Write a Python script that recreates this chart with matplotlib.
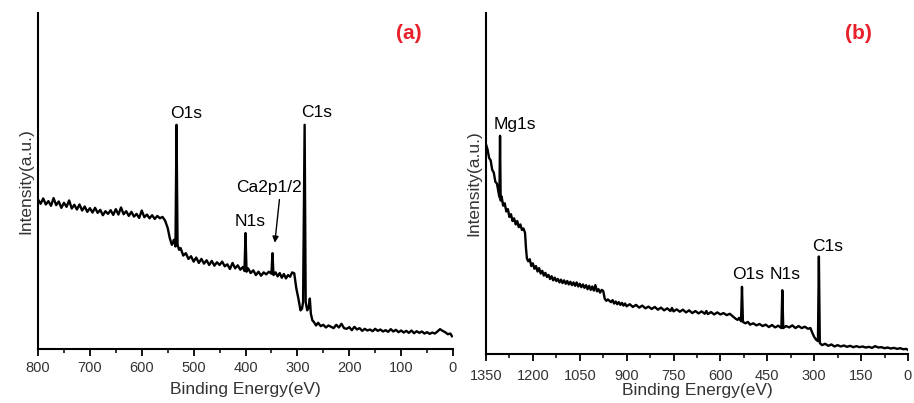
import numpy as np
import matplotlib
matplotlib.use("Agg")
import matplotlib.pyplot as plt
from matplotlib.ticker import MultipleLocator

plt.rcParams['font.family'] = ['Liberation Sans', 'DejaVu Sans']

# ---- panel (a): survey spectrum, binding energy (eV) vs intensity (a.u.)
energy_a = [800, 795, 790, 785, 780, 775, 770, 765, 760, 755, 750, 745, 740, 735, 730,
            725, 720, 715, 710, 705, 700, 695, 690, 685, 680, 675, 670, 665, 660, 655,
            650, 645, 640, 635, 630, 625, 620, 615, 610, 605, 600, 595, 590, 585, 580,
            575, 570, 565, 560, 555, 550, 546, 542, 538, 535, 533, 531, 528, 525, 520,
            515, 510, 505, 500, 495, 490, 485, 480, 475, 470, 465, 460, 455, 450, 445,
            440, 435, 430, 425, 420, 415, 410, 405, 402, 400, 398, 395, 390, 385, 380,
            375, 370, 365, 360, 355, 350, 348, 346, 342, 338, 334, 330, 326, 322, 318,
            314, 310, 306, 302, 298, 294, 291, 289, 286, 284, 281, 278, 276, 274, 271,
            268, 264, 260, 255, 250, 245, 240, 235, 230, 225, 220, 215, 210, 205, 200,
            195, 190, 185, 180, 175, 170, 165, 160, 155, 150, 145, 140, 135, 130, 125,
            120, 115, 110, 105, 100, 95, 90, 85, 80, 75, 70, 65, 60, 55, 50,
            45, 40, 35, 30, 25, 20, 15, 10, 5, 2]
intensity_a = [44.5, 43.2, 44.8, 43.0, 44.0, 42.6, 44.9, 42.8, 43.9, 42.0, 43.5, 42.3, 44.2, 41.8, 42.9,
               41.5, 43.0, 41.2, 42.4, 40.8, 41.9, 40.6, 42.0, 40.5, 41.4, 39.8, 41.0, 40.2, 41.3, 39.9,
               41.6, 40.0, 42.1, 40.1, 41.0, 39.6, 40.8, 39.4, 40.2, 39.0, 41.2, 39.2, 40.0, 38.9, 39.8,
               38.7, 39.6, 38.9, 39.3, 38.2, 36.0, 33.0, 31.0, 32.5, 30.5, 66.7, 31.0, 29.5, 30.0, 27.8,
               28.5, 26.8, 27.6, 26.0, 27.2, 25.6, 26.8, 25.4, 26.4, 25.0, 26.2, 24.8, 25.8, 25.0, 26.0,
               24.6, 25.2, 23.8, 25.6, 24.0, 24.9, 23.6, 24.4, 23.2, 34.5, 23.0, 24.0, 22.6, 23.4, 22.0,
               23.0, 21.8, 22.8, 22.2, 23.0, 22.4, 28.5, 22.0, 22.8, 21.6, 22.6, 21.2, 22.3, 21.0, 22.0,
               21.5, 22.8, 22.5, 18.0, 15.0, 11.5, 12.0, 14.0, 66.7, 14.0, 11.5, 12.5, 15.0, 10.5, 8.5,
               8.0, 7.0, 7.8, 6.8, 7.2, 6.4, 7.0, 6.6, 6.2, 7.2, 6.4, 7.5, 6.2, 6.0, 6.5,
               5.6, 6.6, 5.8, 6.2, 5.4, 6.0, 5.5, 5.8, 5.3, 6.0, 5.4, 5.8, 5.2, 5.6, 5.1,
               5.9, 5.2, 5.7, 5.0, 5.5, 4.9, 5.4, 4.8, 5.5, 4.7, 5.3, 4.8, 5.2, 4.6, 5.0,
               4.5, 4.9, 4.6, 5.2, 5.9, 5.4, 5.0, 4.4, 4.6, 3.8]

# ---- panel (b)
energy_b = [1350, 1345, 1340, 1335, 1330, 1325, 1320, 1315, 1310, 1307, 1305, 1303, 1300, 1295, 1290,
            1285, 1280, 1275, 1270, 1265, 1260, 1255, 1250, 1245, 1240, 1235, 1230, 1225, 1222, 1219,
            1215, 1210, 1205, 1200, 1195, 1190, 1185, 1180, 1175, 1170, 1165, 1160, 1155, 1150, 1145,
            1140, 1135, 1130, 1125, 1120, 1115, 1110, 1105, 1100, 1095, 1090, 1085, 1080, 1075, 1070,
            1065, 1060, 1055, 1050, 1045, 1040, 1035, 1030, 1025, 1020, 1015, 1010, 1005, 1000, 995,
            990, 985, 980, 975, 970, 965, 960, 950, 945, 940, 935, 930, 925, 920, 915,
            910, 905, 900, 890, 880, 870, 860, 850, 840, 830, 820, 810, 800, 790, 780,
            770, 760, 755, 750, 740, 730, 720, 710, 700, 690, 680, 670, 660, 650, 645,
            640, 630, 620, 610, 600, 590, 580, 570, 560, 552, 545, 540, 534, 531, 528,
            520, 512, 505, 495, 485, 475, 465, 455, 445, 435, 425, 415, 405, 402, 399,
            390, 380, 370, 360, 350, 340, 330, 320, 312, 306, 300, 294, 288, 285, 282,
            275, 265, 255, 245, 235, 225, 215, 205, 195, 185, 175, 165, 155, 145, 135,
            125, 115, 105, 95, 85, 75, 65, 55, 45, 35, 25, 15, 5, 0]
intensity_b = [61.5, 60.0, 57.5, 56.8, 54.0, 53.2, 50.5, 50.0, 47.5, 46.0, 64.0, 45.0, 46.2, 43.5, 44.2,
               41.8, 42.5, 40.2, 41.0, 39.0, 39.8, 38.0, 39.0, 37.2, 38.0, 36.4, 36.8, 35.5, 31.0, 28.0,
               27.2, 27.8, 25.8, 26.6, 25.0, 25.8, 24.2, 25.2, 23.6, 24.4, 23.0, 23.8, 22.6, 23.2, 22.0,
               22.8, 21.6, 22.4, 21.4, 22.0, 21.0, 21.8, 20.8, 21.6, 20.6, 21.4, 20.4, 21.2, 20.2, 21.0,
               20.0, 21.0, 19.8, 20.6, 19.6, 20.4, 19.4, 20.2, 19.0, 20.0, 18.8, 19.8, 18.6, 20.2, 18.4,
               19.0, 18.0, 18.8, 18.5, 16.2, 15.6, 16.0, 15.2, 15.8, 14.8, 15.4, 14.6, 15.2, 14.4, 15.0,
               14.2, 14.8, 14.0, 14.6, 13.8, 14.4, 13.6, 14.2, 13.4, 13.9, 13.2, 13.8, 13.0, 13.6, 12.8,
               13.4, 12.6, 13.5, 12.5, 13.1, 12.4, 13.0, 12.2, 12.8, 12.0, 12.6, 11.9, 12.5, 11.8, 12.6,
               11.7, 12.3, 11.6, 12.2, 11.6, 12.0, 11.4, 11.8, 11.0, 10.4, 10.0, 10.6, 9.6, 19.7, 9.4,
               9.0, 9.4, 8.6, 9.0, 8.4, 8.8, 8.2, 8.6, 7.9, 8.5, 7.8, 8.3, 7.6, 18.7, 7.6,
               8.2, 7.8, 8.4, 7.6, 8.2, 7.6, 8.0, 7.4, 7.6, 6.2, 5.0, 4.2, 3.8, 28.6, 3.2,
               2.6, 3.0, 2.4, 2.8, 2.2, 2.6, 2.2, 2.5, 2.1, 2.4, 2.0, 2.3, 2.0, 2.2, 1.9,
               2.1, 1.8, 2.3, 1.9, 2.0, 1.7, 1.9, 1.6, 1.8, 1.5, 1.7, 1.4, 1.5, 1.2]

RED = '#e8202a'
TICK_GREY = '#333333'


def style_axis(ax, xmax, major, minor, tick_pad, label_pad):
    ax.set_xlim(xmax, 0)
    ax.set_ylim(0, 100)
    ax.spines['top'].set_visible(False)
    ax.spines['right'].set_visible(False)
    ax.spines['left'].set_linewidth(1.5)
    ax.spines['bottom'].set_linewidth(1.5)
    ax.set_yticks([])
    ax.xaxis.set_major_locator(MultipleLocator(major))
    ax.xaxis.set_minor_locator(MultipleLocator(minor))
    ax.tick_params(axis='x', which='major', direction='out', length=5, width=1.3,
                   labelsize=10.5, pad=tick_pad, labelcolor=TICK_GREY)
    ax.tick_params(axis='x', which='minor', direction='out', length=3, width=1.1)
    ax.set_xlabel('Binding Energy(eV)', fontsize=12.5, labelpad=label_pad, color=TICK_GREY)
    ax.set_ylabel('Intensity(a.u.)', fontsize=12.5, labelpad=3, color=TICK_GREY)


fig = plt.figure(figsize=(9.14, 4.03), dpi=100)
ax1 = fig.add_axes([0.0416, 0.134, 0.454, 0.834])
ax2 = fig.add_axes([0.5317, 0.1216, 0.4617, 0.846])

# (a)
ax1.plot(energy_a, intensity_a, color='black', lw=1.7)
style_axis(ax1, 800, 100, 50, 4, 5)
ax1.text(514, 70.1, 'O1s', fontsize=12.5, ha='center', va='center')
ax1.text(263, 70.3, 'C1s', fontsize=12.5, ha='center', va='center')
ax1.text(391, 37.8, 'N1s', fontsize=12.5, ha='center', va='center')
ax1.text(355, 48.0, 'Ca2p1/2', fontsize=12.5, ha='center', va='center')
ax1.annotate('', xy=(344, 30.8), xytext=(334, 45.3),
             arrowprops=dict(arrowstyle='-|>', color='black', lw=1.0, mutation_scale=9))
ax1.text(85, 94.0, '(a)', fontsize=15, fontweight='bold', color=RED, ha='center', va='center')

# (b)
ax2.plot(energy_b, intensity_b, color='black', lw=1.7)
style_axis(ax2, 1350, 150, 75, 6, 0)
ax2.text(1257, 67.3, 'Mg1s', fontsize=12.5, ha='center', va='center')
ax2.text(511, 23.2, 'O1s', fontsize=12.5, ha='center', va='center')
ax2.text(394, 23.2, 'N1s', fontsize=12.5, ha='center', va='center')
ax2.text(256, 31.5, 'C1s', fontsize=12.5, ha='center', va='center')
ax2.text(160, 94.1, '(b)', fontsize=15, fontweight='bold', color=RED, ha='center', va='center')

fig.savefig('out.png', dpi=100)
